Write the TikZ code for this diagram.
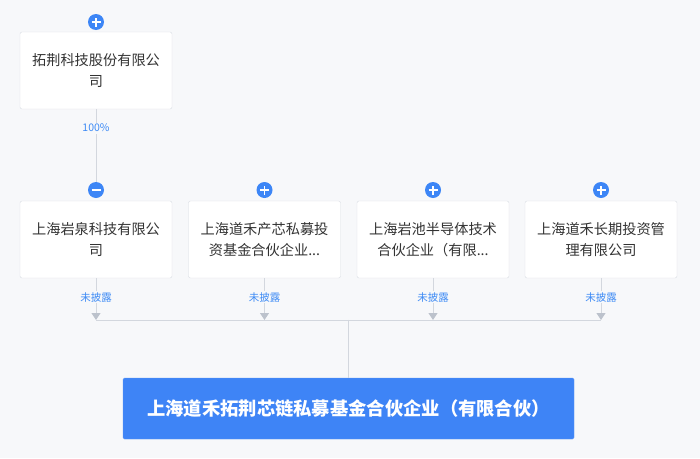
\documentclass[tikz,border=0pt]{standalone}
\usepackage{fontspec}
\setmainfont{Noto Sans CJK SC}
\usetikzlibrary{arrows.meta}
\definecolor{bg}{HTML}{F7F8FA}
\definecolor{boxline}{HTML}{D9DDE3}
\definecolor{linec}{HTML}{D3D7DE}
\definecolor{tipc}{HTML}{BCC2CC}
\definecolor{txt}{HTML}{333333}
\definecolor{lblue}{HTML}{3E8BF5}
\definecolor{iconblue}{HTML}{3D86F6}
\definecolor{mainblue}{HTML}{3E84F6}
\tikzset{
  company/.style={rectangle, draw=boxline, fill=white, rounded corners=2pt,
    minimum width=152pt, minimum height=77pt, align=center, text=txt,
    font=\fontsize{14.2}{21.5}\selectfont},
  mainbox/.style={rectangle, draw=mainblue!85!white, fill=mainblue, rounded corners=1.5pt,
    minimum width=451pt, minimum height=61pt, text=white,
    font=\fontsize{18.3}{20}\selectfont\bfseries},
  iconc/.style={circle, fill=iconblue, minimum size=16pt, inner sep=0pt},
  plusicon/.style={iconc, path picture={
    \draw[white, line width=1.7pt] (path picture bounding box.center) ++(-4.5pt,0pt) -- ++(9pt,0pt);
    \draw[white, line width=1.7pt] (path picture bounding box.center) ++(0pt,-4.5pt) -- ++(0pt,9pt);}},
  minusicon/.style={iconc, path picture={
    \draw[white, line width=1.7pt] (path picture bounding box.center) ++(-4.5pt,0pt) -- ++(9pt,0pt);}},
  conn/.style={draw=linec, line width=1pt},
  pct/.style={fill=bg, text=lblue, inner sep=1.5pt, font=\fontsize{10.5}{12}\selectfont},
  arr/.style={conn, -{Triangle[width=9pt,length=7pt,fill=tipc,color=tipc]}},
}
\begin{document}
\begin{tikzpicture}[x=1pt,y=-1pt]
\fill[bg] (0,0) rectangle (700,458);
\useasboundingbox (0,0) rectangle (700,458);

% top shareholder
\node[company] (top) at (96,70.5) {拓荆科技股份有限公\\司};
\node[plusicon] (ptop) at (96,22) {};

% second row
\node[company] (b1) at (96,239.5) {上海岩泉科技有限公\\司};
\node[company] (b2) at (264.5,239.5) {上海道禾产芯私募投\\资基金合伙企业...};
\node[company] (b3) at (433,239.5) {上海岩池半导体技术\\合伙企业（有限...};
\node[company] (b4) at (601,239.5) {上海道禾长期投资管\\理有限公司};

\node[minusicon] (i1) at (96,190) {};
\node[plusicon] (i2) at (264.5,190) {};
\node[plusicon] (i3) at (433,190) {};
\node[plusicon] (i4) at (601,190) {};

% main entity
\node[mainbox] (main) at (348.5,408.5) {上海道禾拓荆芯链私募基金合伙企业（有限合伙）};

% connectors
\draw[conn] (top.south) -- node[pct, pos=0.26] {100\%} (i1.north);

\coordinate (t1) at (96,320);
\coordinate (t2) at (264.5,320);
\coordinate (t3) at (433,320);
\coordinate (t4) at (601,320);
\coordinate (mid) at (348.5,319.5);

\draw[conn] (t1) -- (t4);
\draw[conn] (mid) -- (main.north);

\draw[arr] (b1.south) -- node[pct, pos=0.45] {未披露} (t1);
\draw[arr] (b2.south) -- node[pct, pos=0.45] {未披露} (t2);
\draw[arr] (b3.south) -- node[pct, pos=0.45] {未披露} (t3);
\draw[arr] (b4.south) -- node[pct, pos=0.45] {未披露} (t4);
\end{tikzpicture}
\end{document}
